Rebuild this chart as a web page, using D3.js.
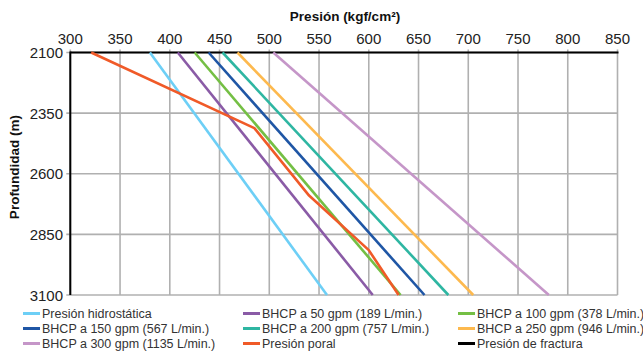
<!DOCTYPE html>
<html><head><meta charset="utf-8">
<script src="https://cdn.jsdelivr.net/npm/d3@7"></script>
<style>
body{margin:0;background:#fff;}
svg{display:block;font-family:"Liberation Sans",Arial,sans-serif;}
</style></head>
<body><svg id="c" width="643" height="353"></svg>
<script>
const xTicks = [300,350,400,450,500,550,600,650,700,750,800,850];
const yTicks = [2100,2350,2600,2850,3100];
const depths = [2100, 3100];
const hidrostatica = [380, 558];
const bhcp50 = [408, 604];
const bhcp100 = [425, 632];
const bhcp150 = [439, 656];
const bhcp200 = [453, 680];
const bhcp250 = [468, 705];
const bhcp300 = [504, 781];
const poralDepths = [2100, 2412, 2690, 2915, 3100];
const poral = [321, 485, 540, 600, 630];
const fracturaDepths = [];
const fractura = [];

const seriesNames = ["Presión hidrostática","BHCP a 50 gpm (189 L/min.)","BHCP a 100 gpm (378 L/min.)",
 "BHCP a 150 gpm (567 L/min.)","BHCP a 200 gpm (757 L/min.)","BHCP a 250 gpm (946 L/min.)",
 "BHCP a 300 gpm (1135 L/min.)","Presión poral","Presión de fractura"];
const colors = ["#6dcff6","#8a5ba6","#74bf44","#1f56a5","#2eb6a2","#fdb94e","#c596c8","#f05a28","#000000"];

const series = [
 {d:depths, v:hidrostatica}, {d:depths, v:bhcp50}, {d:depths, v:bhcp100},
 {d:depths, v:bhcp150}, {d:depths, v:bhcp200}, {d:depths, v:bhcp250},
 {d:depths, v:bhcp300}, {d:poralDepths, v:poral}, {d:fracturaDepths, v:fractura}
];

const svg = d3.select("#c");
const x = d3.scaleLinear().domain([300,850]).range([70.3,617.5]);
const y = d3.scaleLinear().domain([2100,3100]).range([52.5,295]);

// grid
const g = svg.append("g");
g.selectAll(".vg").data(xTicks).join("line")
 .attr("x1",d=>x(d)).attr("x2",d=>x(d)).attr("y1",y(2100)-3).attr("y2",y(3100))
 .attr("stroke","#b0b0b0").attr("stroke-width",1.6);
g.selectAll(".hg").data(yTicks).join("line")
 .attr("y1",d=>y(d)).attr("y2",d=>y(d)).attr("x1",x(300)-4).attr("x2",x(850))
 .attr("stroke","#b0b0b0").attr("stroke-width",1.6);

// axes lines
svg.append("line").attr("x1",x(300)).attr("x2",x(850)+1).attr("y1",y(2100)).attr("y2",y(2100))
 .attr("stroke","#000").attr("stroke-width",2);
svg.append("line").attr("x1",x(300)).attr("x2",x(300)).attr("y1",y(2100)-1).attr("y2",y(3100))
 .attr("stroke","#000").attr("stroke-width",2);

// tick labels
svg.selectAll(".xt").data(xTicks).join("text")
 .attr("x",d=>x(d)).attr("y",44).attr("text-anchor","middle")
 .attr("font-size",15).attr("fill","#222").text(d=>d);
svg.selectAll(".yt").data(yTicks).join("text")
 .attr("x",63).attr("y",d=>y(d)+5.5).attr("text-anchor","end")
 .attr("font-size",15).attr("fill","#222").text(d=>d);

// titles
svg.append("text").attr("x",345).attr("y",21).attr("text-anchor","middle")
 .attr("font-size",13.5).attr("font-weight","bold").attr("fill","#111")
 .text("Presión (kgf/cm²)");
svg.append("text").attr("transform","translate(19,167) rotate(-90)").attr("text-anchor","middle")
 .attr("font-size",13.5).attr("font-weight","bold").attr("fill","#111")
 .text("Profundidad (m)");

// lines
const line = d3.line().x(p=>x(p[1])).y(p=>y(p[0]));
series.forEach((s,i)=>{
  if(!s.v.length) return;
  const pts = s.d.map((dd,k)=>[dd,s.v[k]]);
  svg.append("path").attr("d",line(pts)).attr("fill","none")
   .attr("stroke",colors[i]).attr("stroke-width",2.6).attr("stroke-linejoin","round");
});

// legend
const colX = [23,243,458];
const rowY = [313.5,328.5,343.5];
seriesNames.forEach((n,i)=>{
  const cx = colX[i%3], cy = rowY[Math.floor(i/3)];
  svg.append("line").attr("x1",cx).attr("x2",cx+17).attr("y1",cy).attr("y2",cy)
   .attr("stroke",colors[i]).attr("stroke-width",3);
  svg.append("text").attr("x",cx+19).attr("y",cy+4.5).attr("font-size",12.5)
   .attr("fill","#333").text(n);
});
</script></body></html>
